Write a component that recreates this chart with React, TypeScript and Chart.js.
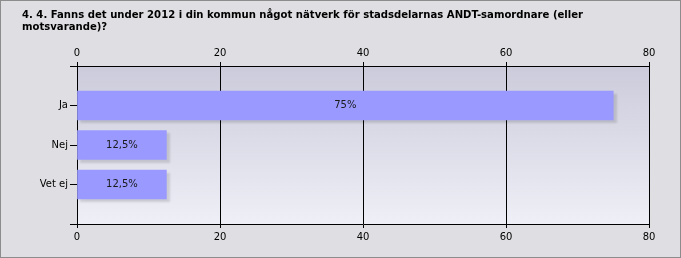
import React, { useEffect, useRef } from "react";
import { Chart, registerables } from "chart.js";

Chart.register(...registerables);

const titleLines = [
  "4. 4. Fanns det under 2012 i din kommun något nätverk för stadsdelarnas ANDT-samordnare (eller",
  "motsvarande)?",
];
const categories = ["Ja", "Nej", "Vet ej"];
const values = [75, 12.5, 12.5];
const axisMin = 0;
const axisMax = 80;
const axisStep = 20;

const FONT = "'DejaVu Sans', Verdana, sans-serif";

export default function App() {
  const ref = useRef<HTMLCanvasElement | null>(null);

  useEffect(() => {
    document.body.style.margin = "0";
    const canvas = ref.current;
    if (!canvas) return;

    const labels = ["", ...categories, ""];
    const data = [null, ...values, null];

    const decor = {
      id: "decor",
      beforeDraw(chart: any) {
        const { ctx, chartArea, width, height } = chart;
        ctx.save();
        ctx.fillStyle = "#dfdfe3";
        ctx.fillRect(0, 0, width, height);
        ctx.strokeStyle = "#8c8c8c";
        ctx.lineWidth = 1;
        ctx.strokeRect(0.5, 0.5, width - 1, height - 1);
        const g = ctx.createLinearGradient(0, chartArea.top, 0, chartArea.bottom);
        g.addColorStop(0, "#cbcbdb");
        g.addColorStop(1, "#efeff7");
        ctx.fillStyle = g;
        ctx.fillRect(chartArea.left, chartArea.top, chartArea.right - chartArea.left, chartArea.bottom - chartArea.top);
        ctx.fillStyle = "#000";
        ctx.font = "bold 10.1px " + FONT;
        ctx.textBaseline = "alphabetic";
        ctx.textAlign = "left";
        titleLines.forEach((t, i) => ctx.fillText(t, 22, 18 + i * 12));
        ctx.restore();
      },
      beforeDatasetsDraw(chart: any) {
        const ctx = chart.ctx;
        ctx.save();
        ctx.shadowColor = "rgba(0,0,0,0.13)";
        ctx.shadowOffsetX = 3;
        ctx.shadowOffsetY = 3;
        ctx.shadowBlur = 2;
      },
      afterDatasetsDraw(chart: any) {
        const ctx = chart.ctx;
        ctx.restore();
        ctx.save();
        const meta = chart.getDatasetMeta(0);
        ctx.fillStyle = "#1a1a1a";
        ctx.font = "10px " + FONT;
        ctx.textAlign = "center";
        ctx.textBaseline = "middle";
        meta.data.forEach((el: any, i: number) => {
          const v = data[i];
          if (v == null) return;
          const x = (el.x + el.base) / 2;
          ctx.fillText(String(v).replace(".", ",") + "%", x, el.y);
        });
        ctx.restore();
      },
    };

    const tickFont = { family: FONT, size: 10 };

    const chart = new Chart(canvas, {
      type: "bar",
      data: {
        labels,
        datasets: [
          {
            data,
            backgroundColor: "#9999ff",
            borderWidth: 0,
            barThickness: 29,
            xAxisID: "x",
            yAxisID: "y",
          },
        ],
      },
      options: {
        indexAxis: "y",
        responsive: false,
        animation: false,
        events: [],
        layout: { padding: { top: 40, left: 0, right: 32, bottom: 0 } },
        plugins: {
          legend: { display: false },
          title: { display: false },
          tooltip: { enabled: false },
        },
        scales: {
          x: {
            type: "linear",
            position: "bottom",
            min: axisMin,
            max: axisMax,
            ticks: { stepSize: axisStep, color: "#000", font: tickFont, padding: 3 },
            grid: { color: "#000", lineWidth: 1, tickLength: 4, drawOnChartArea: true, drawTicks: true },
            border: { display: true, color: "#000" },
            afterFit(s: any) {
              s.height = 34;
            },
          },
          x2: {
            type: "linear",
            position: "top",
            min: axisMin,
            max: axisMax,
            ticks: { stepSize: axisStep, color: "#000", font: tickFont, padding: 3 },
            grid: { color: "#000", lineWidth: 1, tickLength: 4, drawOnChartArea: false, drawTicks: true },
            border: { display: true, color: "#000" },
            afterFit(s: any) {
              s.height = 26;
            },
          },
          y: {
            type: "category",
            position: "left",
            offset: false,
            ticks: { color: "#000", font: tickFont, padding: 2, autoSkip: false },
            grid: { color: "#000", lineWidth: 1, tickLength: 7, drawOnChartArea: false, offset: false },
            border: { display: true, color: "#000" },
            afterFit(s: any) {
              s.width = 77;
            },
          },
        },
      },
      plugins: [decor],
    } as any);

    return () => chart.destroy();
  }, []);

  return (
    <div style={{ width: 681, height: 258 }}>
      <canvas ref={ref} width={681} height={258} style={{ display: "block" }} />
    </div>
  );
}
